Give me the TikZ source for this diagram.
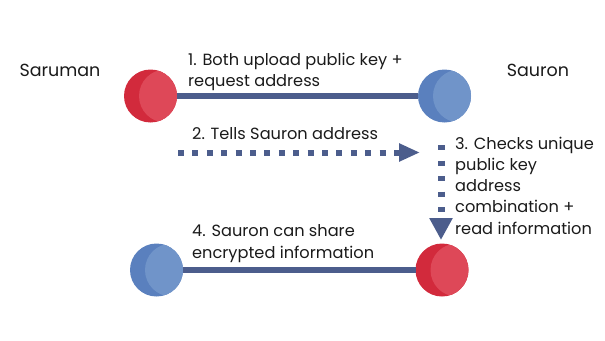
\documentclass[tikz,border=0pt]{standalone}
\usepackage{fontspec}
\setmainfont{Poppins}
\usetikzlibrary{arrows.meta}
\definecolor{redD}{HTML}{D22A3C}
\definecolor{redL}{HTML}{DE4858}
\definecolor{bluD}{HTML}{5A80BE}
\definecolor{bluL}{HTML}{7094C9}
\definecolor{lineC}{HTML}{4C5D8C}
\definecolor{txtC}{HTML}{1A1A1A}
\tikzset{
  ball/.style={circle, minimum size=53pt, inner sep=0pt, outer sep=0pt},
  redball/.style={ball, fill=redD, path picture={\fill[redL] ([xshift=15pt]path picture bounding box.center) circle (26.5pt);}},
  blueball/.style={ball, fill=bluD, path picture={\fill[bluL] ([xshift=15pt]path picture bounding box.center) circle (26.5pt);}},
  link/.style={draw=lineC, line width=5.5pt},
  lbl/.style={text=txtC, font=\fontsize{16.2pt}{21.2pt}\selectfont, inner sep=0pt, align=left, anchor=base west},
  persona/.style={text=txtC, font=\fontsize{17.5pt}{20pt}\selectfont, inner sep=0pt, anchor=base},
}
\begin{document}
\begin{tikzpicture}[x=1pt,y=-1pt]
\useasboundingbox (0,0) rectangle (605,340);
\node[redball] (r1) at (150.5,96) {};
\node[blueball] (b1) at (444.5,96) {};
\node[blueball] (b2) at (156.5,270) {};
\node[redball] (r2) at (442,270) {};
\draw[link] (r1) -- (b1);
\draw[link] (b2) -- (r2);
\node[persona] (saruman) at (60,76.5) {Saruman};
\node[persona] (sauron) at (538,76.5) {Sauron};
% base anchor = baseline of the last line
\node[lbl] (l1) at (188,86.5) {1. Both upload public key +\\request address};
\node[lbl] (l2) at (192,139) {2. Tells Sauron address};
\node[lbl] (l3) at (455,234) {3. Checks unique\\public key\\address\\combination +\\read information};
\node[lbl] (l4) at (192,258) {4. Sauron can share\\encrypted information};
\coordinate (h1) at (178,152.5);
\coordinate (h2) at (420,152.5);
\coordinate (v1) at (441,145);
\coordinate (v2) at (441,240);
\draw[lineC, line width=6pt, dash pattern=on 6pt off 8.4pt, -{Triangle[length=21pt,width=17pt]}] (h1) -- (h2);
\draw[lineC, line width=7pt, dash pattern=on 5pt off 10.5pt, -{Triangle[length=22pt,width=22pt]}] (v1) -- (v2);
\end{tikzpicture}
\end{document}
